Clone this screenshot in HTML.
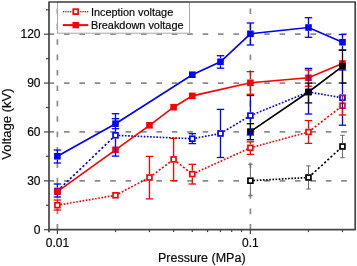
<!DOCTYPE html>
<html><head><meta charset="utf-8"><style>html,body{margin:0;padding:0;background:#fff;width:357px;height:266px;overflow:hidden}svg{display:block;will-change:transform}text{font-family:"Liberation Sans",sans-serif;stroke:#1a1a1a;stroke-width:0.2px}</style></head><body>
<svg width="357" height="266" viewBox="0 0 357 266" font-family="Liberation Sans, sans-serif" fill="#000"><line x1="48.6" y1="180.83" x2="355.2" y2="180.83" stroke="#8c8c8c" stroke-width="1.7" stroke-dasharray="5.6 9.8"/>
<line x1="48.6" y1="131.96" x2="355.2" y2="131.96" stroke="#8c8c8c" stroke-width="1.7" stroke-dasharray="5.6 9.8"/>
<line x1="48.6" y1="83.09" x2="355.2" y2="83.09" stroke="#8c8c8c" stroke-width="1.7" stroke-dasharray="5.6 9.8"/>
<line x1="48.6" y1="34.22" x2="355.2" y2="34.22" stroke="#8c8c8c" stroke-width="1.7" stroke-dasharray="5.6 9.8"/>
<line x1="57.40" y1="229.6" x2="57.40" y2="2.0" stroke="#8c8c8c" stroke-width="1.7" stroke-dasharray="5.6 9.8"/>
<line x1="250.40" y1="229.6" x2="250.40" y2="2.0" stroke="#8c8c8c" stroke-width="1.7" stroke-dasharray="5.6 9.8"/>
<line x1="57.40" y1="191" x2="115.50" y2="135.3" stroke="#0000ff" stroke-width="1.65" stroke-dasharray="2.22 2.15"/>
<line x1="115.50" y1="135.3" x2="192.30" y2="138.7" stroke="#0000ff" stroke-width="1.65" stroke-dasharray="1.60 1.55"/>
<line x1="192.30" y1="138.7" x2="220.50" y2="133.5" stroke="#0000ff" stroke-width="1.65" stroke-dasharray="1.63 1.58"/>
<line x1="220.50" y1="133.5" x2="250.40" y2="115.6" stroke="#0000ff" stroke-width="1.65" stroke-dasharray="1.86 1.81"/>
<line x1="250.40" y1="115.6" x2="308.50" y2="92" stroke="#0000ff" stroke-width="1.65" stroke-dasharray="1.73 1.67"/>
<line x1="308.50" y1="92" x2="342.48" y2="97.8" stroke="#0000ff" stroke-width="1.65" stroke-dasharray="1.62 1.57"/>
<polyline points="57.40,156.3 115.50,123.7 192.30,74.7 220.50,61.8 250.40,33.8 308.50,27.5 342.48,42.2" fill="none" stroke="#0000ff" stroke-width="1.65"/>
<line x1="57.40" y1="205.2" x2="115.50" y2="195.3" stroke="#ff0000" stroke-width="1.65" stroke-dasharray="1.62 1.57"/>
<line x1="115.50" y1="195.3" x2="149.48" y2="177.5" stroke="#ff0000" stroke-width="1.65" stroke-dasharray="1.81 1.75"/>
<line x1="149.48" y1="177.5" x2="173.60" y2="159.4" stroke="#ff0000" stroke-width="1.65" stroke-dasharray="2.00 1.94"/>
<line x1="173.60" y1="159.4" x2="192.30" y2="174.1" stroke="#ff0000" stroke-width="1.65" stroke-dasharray="2.04 1.97"/>
<line x1="192.30" y1="174.1" x2="250.40" y2="147.8" stroke="#ff0000" stroke-width="1.65" stroke-dasharray="1.76 1.70"/>
<line x1="250.40" y1="147.8" x2="308.50" y2="132" stroke="#ff0000" stroke-width="1.65" stroke-dasharray="1.66 1.61"/>
<line x1="308.50" y1="132" x2="342.48" y2="105.7" stroke="#ff0000" stroke-width="1.65" stroke-dasharray="2.02 1.96"/>
<polyline points="57.40,191.7 115.50,149.8 149.48,125.3 173.60,107.2 192.30,95.9 250.40,82.8 308.50,77.8 342.48,63.5" fill="none" stroke="#ff0000" stroke-width="1.65"/>
<line x1="250.40" y1="180.7" x2="308.50" y2="177.5" stroke="#000000" stroke-width="1.65" stroke-dasharray="1.60 1.55"/>
<line x1="308.50" y1="177.5" x2="342.48" y2="146.5" stroke="#000000" stroke-width="1.65" stroke-dasharray="2.17 2.10"/>
<polyline points="250.40,131.6 308.50,92 342.48,66.4" fill="none" stroke="#000000" stroke-width="1.65"/>
<rect x="54.95" y="188.55" width="4.8999999999999995" height="4.8999999999999995" fill="#fff" stroke="#0000ff" stroke-width="1.7"/>
<rect x="113.05" y="132.85" width="4.8999999999999995" height="4.8999999999999995" fill="#fff" stroke="#0000ff" stroke-width="1.7"/>
<rect x="189.85" y="136.25" width="4.8999999999999995" height="4.8999999999999995" fill="#fff" stroke="#0000ff" stroke-width="1.7"/>
<rect x="218.05" y="131.05" width="4.8999999999999995" height="4.8999999999999995" fill="#fff" stroke="#0000ff" stroke-width="1.7"/>
<rect x="247.95" y="113.15" width="4.8999999999999995" height="4.8999999999999995" fill="#fff" stroke="#0000ff" stroke-width="1.7"/>
<rect x="306.05" y="89.55" width="4.8999999999999995" height="4.8999999999999995" fill="#fff" stroke="#0000ff" stroke-width="1.7"/>
<rect x="340.03" y="95.35" width="4.8999999999999995" height="4.8999999999999995" fill="#fff" stroke="#0000ff" stroke-width="1.7"/>
<rect x="54.10" y="153.00" width="6.6" height="6.6" fill="#0000ff"/>
<rect x="112.20" y="120.40" width="6.6" height="6.6" fill="#0000ff"/>
<rect x="189.00" y="71.40" width="6.6" height="6.6" fill="#0000ff"/>
<rect x="217.20" y="58.50" width="6.6" height="6.6" fill="#0000ff"/>
<rect x="247.10" y="30.50" width="6.6" height="6.6" fill="#0000ff"/>
<rect x="305.20" y="24.20" width="6.6" height="6.6" fill="#0000ff"/>
<rect x="339.18" y="38.90" width="6.6" height="6.6" fill="#0000ff"/>
<rect x="54.95" y="202.75" width="4.8999999999999995" height="4.8999999999999995" fill="#fff" stroke="#ff0000" stroke-width="1.7"/>
<rect x="113.05" y="192.85" width="4.8999999999999995" height="4.8999999999999995" fill="#fff" stroke="#ff0000" stroke-width="1.7"/>
<rect x="147.03" y="175.05" width="4.8999999999999995" height="4.8999999999999995" fill="#fff" stroke="#ff0000" stroke-width="1.7"/>
<rect x="171.15" y="156.95" width="4.8999999999999995" height="4.8999999999999995" fill="#fff" stroke="#ff0000" stroke-width="1.7"/>
<rect x="189.85" y="171.65" width="4.8999999999999995" height="4.8999999999999995" fill="#fff" stroke="#ff0000" stroke-width="1.7"/>
<rect x="247.95" y="145.35" width="4.8999999999999995" height="4.8999999999999995" fill="#fff" stroke="#ff0000" stroke-width="1.7"/>
<rect x="306.05" y="129.55" width="4.8999999999999995" height="4.8999999999999995" fill="#fff" stroke="#ff0000" stroke-width="1.7"/>
<rect x="340.03" y="103.25" width="4.8999999999999995" height="4.8999999999999995" fill="#fff" stroke="#ff0000" stroke-width="1.7"/>
<rect x="54.10" y="188.40" width="6.6" height="6.6" fill="#ff0000"/>
<rect x="112.20" y="146.50" width="6.6" height="6.6" fill="#ff0000"/>
<rect x="146.18" y="122.00" width="6.6" height="6.6" fill="#ff0000"/>
<rect x="170.30" y="103.90" width="6.6" height="6.6" fill="#ff0000"/>
<rect x="189.00" y="92.60" width="6.6" height="6.6" fill="#ff0000"/>
<rect x="247.10" y="79.50" width="6.6" height="6.6" fill="#ff0000"/>
<rect x="305.20" y="74.50" width="6.6" height="6.6" fill="#ff0000"/>
<rect x="339.18" y="60.20" width="6.6" height="6.6" fill="#ff0000"/>
<rect x="247.95" y="178.25" width="4.8999999999999995" height="4.8999999999999995" fill="#fff" stroke="#000000" stroke-width="1.7"/>
<rect x="306.05" y="175.05" width="4.8999999999999995" height="4.8999999999999995" fill="#fff" stroke="#000000" stroke-width="1.7"/>
<rect x="340.03" y="144.05" width="4.8999999999999995" height="4.8999999999999995" fill="#fff" stroke="#000000" stroke-width="1.7"/>
<rect x="247.10" y="128.30" width="6.6" height="6.6" fill="#000000"/>
<rect x="305.20" y="88.70" width="6.6" height="6.6" fill="#000000"/>
<rect x="339.18" y="63.10" width="6.6" height="6.6" fill="#000000"/>
<g stroke="#0000ff" stroke-width="1.3" opacity="1"><line x1="57.40" y1="184" x2="57.40" y2="187.60"/><line x1="57.40" y1="194.40" x2="57.40" y2="197"/><line x1="53.70" y1="184" x2="61.10" y2="184"/><line x1="53.70" y1="197" x2="61.10" y2="197"/></g>
<g stroke="#0000ff" stroke-width="1.3" opacity="1"><line x1="115.50" y1="113.7" x2="115.50" y2="131.90"/><line x1="115.50" y1="138.70" x2="115.50" y2="156.1"/><line x1="111.80" y1="113.7" x2="119.20" y2="113.7"/><line x1="111.80" y1="156.1" x2="119.20" y2="156.1"/></g>
<g stroke="#0000ff" stroke-width="1.3" opacity="1"><line x1="192.30" y1="133.6" x2="192.30" y2="135.30"/><line x1="192.30" y1="142.10" x2="192.30" y2="143.6"/><line x1="188.60" y1="133.6" x2="196.00" y2="133.6"/><line x1="188.60" y1="143.6" x2="196.00" y2="143.6"/></g>
<g stroke="#0000ff" stroke-width="1.3" opacity="1"><line x1="220.50" y1="109.4" x2="220.50" y2="130.10"/><line x1="220.50" y1="136.90" x2="220.50" y2="157.5"/><line x1="216.80" y1="109.4" x2="224.20" y2="109.4"/><line x1="216.80" y1="157.5" x2="224.20" y2="157.5"/></g>
<g stroke="#0000ff" stroke-width="1.3" opacity="1"><line x1="250.40" y1="95.5" x2="250.40" y2="112.20"/><line x1="250.40" y1="119.00" x2="250.40" y2="135"/><line x1="246.70" y1="95.5" x2="254.10" y2="95.5"/><line x1="246.70" y1="135" x2="254.10" y2="135"/></g>
<g stroke="#0000ff" stroke-width="1.3" opacity="1"><line x1="308.50" y1="68.4" x2="308.50" y2="88.60"/><line x1="308.50" y1="95.40" x2="308.50" y2="114"/><line x1="304.80" y1="68.4" x2="312.20" y2="68.4"/><line x1="304.80" y1="114" x2="312.20" y2="114"/></g>
<g stroke="#0000ff" stroke-width="1.3" opacity="1"><line x1="342.48" y1="70" x2="342.48" y2="94.40"/><line x1="342.48" y1="101.20" x2="342.48" y2="125.2"/><line x1="338.78" y1="70" x2="346.18" y2="70"/><line x1="338.78" y1="125.2" x2="346.18" y2="125.2"/></g>
<g stroke="#0000ff" stroke-width="1.3" opacity="1"><line x1="57.40" y1="150" x2="57.40" y2="152.90"/><line x1="57.40" y1="159.70" x2="57.40" y2="163"/><line x1="53.70" y1="150" x2="61.10" y2="150"/><line x1="53.70" y1="163" x2="61.10" y2="163"/></g>
<g stroke="#0000ff" stroke-width="1.3" opacity="1"><line x1="115.50" y1="118.7" x2="115.50" y2="120.30"/><line x1="115.50" y1="127.10" x2="115.50" y2="128.7"/><line x1="111.80" y1="118.7" x2="119.20" y2="118.7"/><line x1="111.80" y1="128.7" x2="119.20" y2="128.7"/></g>
<g stroke="#0000ff" stroke-width="1.3" opacity="1"><line x1="220.50" y1="55.7" x2="220.50" y2="58.40"/><line x1="220.50" y1="65.20" x2="220.50" y2="68.2"/><line x1="216.80" y1="55.7" x2="224.20" y2="55.7"/><line x1="216.80" y1="68.2" x2="224.20" y2="68.2"/></g>
<g stroke="#0000ff" stroke-width="1.3" opacity="1"><line x1="250.40" y1="23" x2="250.40" y2="30.40"/><line x1="250.40" y1="37.20" x2="250.40" y2="45"/><line x1="246.70" y1="23" x2="254.10" y2="23"/><line x1="246.70" y1="45" x2="254.10" y2="45"/></g>
<g stroke="#0000ff" stroke-width="1.3" opacity="1"><line x1="308.50" y1="17.7" x2="308.50" y2="24.10"/><line x1="308.50" y1="30.90" x2="308.50" y2="37.3"/><line x1="304.80" y1="17.7" x2="312.20" y2="17.7"/><line x1="304.80" y1="37.3" x2="312.20" y2="37.3"/></g>
<g stroke="#0000ff" stroke-width="1.3" opacity="1"><line x1="342.48" y1="34.5" x2="342.48" y2="38.80"/><line x1="342.48" y1="45.60" x2="342.48" y2="50"/><line x1="338.78" y1="34.5" x2="346.18" y2="34.5"/><line x1="338.78" y1="50" x2="346.18" y2="50"/></g>
<g stroke="#ff0000" stroke-width="1.3" opacity="1"><line x1="57.40" y1="200" x2="57.40" y2="201.80"/><line x1="57.40" y1="208.60" x2="57.40" y2="210"/><line x1="53.70" y1="200" x2="61.10" y2="200"/><line x1="53.70" y1="210" x2="61.10" y2="210"/></g>
<g stroke="#ff0000" stroke-width="1.3" opacity="1"><line x1="149.48" y1="156.4" x2="149.48" y2="174.10"/><line x1="149.48" y1="180.90" x2="149.48" y2="198.9"/><line x1="145.78" y1="156.4" x2="153.18" y2="156.4"/><line x1="145.78" y1="198.9" x2="153.18" y2="198.9"/></g>
<g stroke="#ff0000" stroke-width="1.3" opacity="1"><line x1="173.60" y1="138.4" x2="173.60" y2="156.00"/><line x1="173.60" y1="162.80" x2="173.60" y2="180.7"/><line x1="169.90" y1="138.4" x2="177.30" y2="138.4"/><line x1="169.90" y1="180.7" x2="177.30" y2="180.7"/></g>
<g stroke="#ff0000" stroke-width="1.3" opacity="1"><line x1="192.30" y1="164.3" x2="192.30" y2="170.70"/><line x1="192.30" y1="177.50" x2="192.30" y2="184"/><line x1="188.60" y1="164.3" x2="196.00" y2="164.3"/><line x1="188.60" y1="184" x2="196.00" y2="184"/></g>
<g stroke="#ff0000" stroke-width="1.3" opacity="1"><line x1="250.40" y1="141.8" x2="250.40" y2="144.40"/><line x1="250.40" y1="151.20" x2="250.40" y2="154.4"/><line x1="246.70" y1="141.8" x2="254.10" y2="141.8"/><line x1="246.70" y1="154.4" x2="254.10" y2="154.4"/></g>
<g stroke="#ff0000" stroke-width="1.3" opacity="1"><line x1="308.50" y1="120.6" x2="308.50" y2="128.60"/><line x1="308.50" y1="135.40" x2="308.50" y2="143.4"/><line x1="304.80" y1="120.6" x2="312.20" y2="120.6"/><line x1="304.80" y1="143.4" x2="312.20" y2="143.4"/></g>
<g stroke="#ff0000" stroke-width="1.3" opacity="1"><line x1="342.48" y1="95.5" x2="342.48" y2="102.30"/><line x1="342.48" y1="109.10" x2="342.48" y2="115"/><line x1="338.78" y1="95.5" x2="346.18" y2="95.5"/><line x1="338.78" y1="115" x2="346.18" y2="115"/></g>
<g stroke="#ff0000" stroke-width="1.3" opacity="1"><line x1="250.40" y1="71.6" x2="250.40" y2="79.40"/><line x1="250.40" y1="86.20" x2="250.40" y2="94.3"/><line x1="246.70" y1="71.6" x2="254.10" y2="71.6"/><line x1="246.70" y1="94.3" x2="254.10" y2="94.3"/></g>
<g stroke="#ff0000" stroke-width="1.3" opacity="1"><line x1="308.50" y1="70" x2="308.50" y2="74.40"/><line x1="308.50" y1="81.20" x2="308.50" y2="86.2"/><line x1="304.80" y1="70" x2="312.20" y2="70"/><line x1="304.80" y1="86.2" x2="312.20" y2="86.2"/></g>
<g stroke="#666" stroke-width="1.0" opacity="1"><line x1="250.40" y1="164.2" x2="250.40" y2="177.30"/><line x1="250.40" y1="184.10" x2="250.40" y2="195.7"/><line x1="248.15" y1="164.2" x2="252.65" y2="164.2"/><line x1="248.15" y1="195.7" x2="252.65" y2="195.7"/></g>
<g stroke="#666" stroke-width="1.0" opacity="1"><line x1="308.50" y1="165.9" x2="308.50" y2="174.10"/><line x1="308.50" y1="180.90" x2="308.50" y2="189"/><line x1="306.25" y1="165.9" x2="310.75" y2="165.9"/><line x1="306.25" y1="189" x2="310.75" y2="189"/></g>
<g stroke="#666" stroke-width="1.0" opacity="1"><line x1="342.48" y1="135.3" x2="342.48" y2="143.10"/><line x1="342.48" y1="149.90" x2="342.48" y2="157.7"/><line x1="340.23" y1="135.3" x2="344.73" y2="135.3"/><line x1="340.23" y1="157.7" x2="344.73" y2="157.7"/></g>
<g stroke="#000000" stroke-width="1.3" opacity="1"><line x1="250.40" y1="123.7" x2="250.40" y2="128.20"/><line x1="250.40" y1="135.00" x2="250.40" y2="139.7"/><line x1="246.70" y1="123.7" x2="254.10" y2="123.7"/><line x1="246.70" y1="139.7" x2="254.10" y2="139.7"/></g>
<g stroke="#000000" stroke-width="1.3" opacity="1"><line x1="308.50" y1="83.1" x2="308.50" y2="88.60"/><line x1="308.50" y1="95.40" x2="308.50" y2="102.9"/><line x1="304.80" y1="83.1" x2="312.20" y2="83.1"/><line x1="304.80" y1="102.9" x2="312.20" y2="102.9"/></g>
<g stroke="#000000" stroke-width="1.3" opacity="1"><line x1="342.48" y1="50.2" x2="342.48" y2="63.00"/><line x1="342.48" y1="69.80" x2="342.48" y2="83"/><line x1="338.78" y1="50.2" x2="346.18" y2="50.2"/><line x1="338.78" y1="83" x2="346.18" y2="83"/></g>
<rect x="57.5" y="2.0" width="132.0" height="31.2" fill="#fff" stroke="#a8a8a8" stroke-width="1"/>
<rect x="63.0" y="11.0" width="1.25" height="1.4" fill="#ff0000"/>
<rect x="65.3" y="11.0" width="1.25" height="1.4" fill="#ff0000"/>
<rect x="67.6" y="11.0" width="1.25" height="1.4" fill="#ff0000"/>
<rect x="69.9" y="11.0" width="1.25" height="1.4" fill="#ff0000"/>
<rect x="80.2" y="11.0" width="1.25" height="1.4" fill="#ff0000"/>
<rect x="82.5" y="11.0" width="1.25" height="1.4" fill="#ff0000"/>
<rect x="84.8" y="11.0" width="1.25" height="1.4" fill="#ff0000"/>
<rect x="87.0" y="11.0" width="1.25" height="1.4" fill="#ff0000"/>
<rect x="73.3" y="9.2" width="4.9" height="4.9" fill="#fff" stroke="#ff0000" stroke-width="1.8"/>
<line x1="62.9" y1="25.1" x2="88.3" y2="25.1" stroke="#ff0000" stroke-width="2"/>
<rect x="72.45" y="21.900000000000002" width="6.6" height="6.4" fill="#ff0000"/>
<text x="90.9" y="15.7" font-size="10.9">Inception voltage</text>
<text x="90.9" y="29.1" font-size="10.9">Breakdown voltage</text>
<rect x="49.0" y="2.0" width="306.2" height="227.6" fill="none" stroke="#454545" stroke-width="1.7" stroke-linejoin="round"/>
<line x1="49.0" y1="229.6" x2="49.0" y2="232.2" stroke="#454545" stroke-width="1.7"/>
<line x1="44" y1="229.70" x2="49.0" y2="229.70" stroke="#454545" stroke-width="1.2"/>
<text x="40.5" y="233.60" font-size="12" text-anchor="end">0</text>
<line x1="44" y1="180.83" x2="49.0" y2="180.83" stroke="#454545" stroke-width="1.2"/>
<text x="40.5" y="184.73" font-size="12" text-anchor="end">30</text>
<line x1="44" y1="131.96" x2="49.0" y2="131.96" stroke="#454545" stroke-width="1.2"/>
<text x="40.5" y="135.86" font-size="12" text-anchor="end">60</text>
<line x1="44" y1="83.09" x2="49.0" y2="83.09" stroke="#454545" stroke-width="1.2"/>
<text x="40.5" y="86.99" font-size="12" text-anchor="end">90</text>
<line x1="44" y1="34.22" x2="49.0" y2="34.22" stroke="#454545" stroke-width="1.2"/>
<text x="40.5" y="38.12" font-size="12" text-anchor="end">120</text>
<line x1="46" y1="205.26" x2="49.0" y2="205.26" stroke="#454545" stroke-width="1.2"/>
<line x1="46" y1="156.39" x2="49.0" y2="156.39" stroke="#454545" stroke-width="1.2"/>
<line x1="46" y1="107.52" x2="49.0" y2="107.52" stroke="#454545" stroke-width="1.2"/>
<line x1="46" y1="58.66" x2="49.0" y2="58.66" stroke="#454545" stroke-width="1.2"/>
<line x1="46" y1="9.78" x2="49.0" y2="9.78" stroke="#454545" stroke-width="1.2"/>
<line x1="57.40" y1="229.6" x2="57.40" y2="234.1" stroke="#454545" stroke-width="1.2"/>
<line x1="250.40" y1="229.6" x2="250.40" y2="234.1" stroke="#454545" stroke-width="1.2"/>
<line x1="115.50" y1="229.6" x2="115.50" y2="232.1" stroke="#454545" stroke-width="1.2"/>
<line x1="149.48" y1="229.6" x2="149.48" y2="232.1" stroke="#454545" stroke-width="1.2"/>
<line x1="173.60" y1="229.6" x2="173.60" y2="232.1" stroke="#454545" stroke-width="1.2"/>
<line x1="192.30" y1="229.6" x2="192.30" y2="232.1" stroke="#454545" stroke-width="1.2"/>
<line x1="207.58" y1="229.6" x2="207.58" y2="232.1" stroke="#454545" stroke-width="1.2"/>
<line x1="220.50" y1="229.6" x2="220.50" y2="232.1" stroke="#454545" stroke-width="1.2"/>
<line x1="231.70" y1="229.6" x2="231.70" y2="232.1" stroke="#454545" stroke-width="1.2"/>
<line x1="241.57" y1="229.6" x2="241.57" y2="232.1" stroke="#454545" stroke-width="1.2"/>
<line x1="308.50" y1="229.6" x2="308.50" y2="232.1" stroke="#454545" stroke-width="1.2"/>
<line x1="342.48" y1="229.6" x2="342.48" y2="232.1" stroke="#454545" stroke-width="1.2"/>
<text x="57.40" y="247" font-size="12" text-anchor="middle">0.01</text>
<text x="250.40" y="247" font-size="12" text-anchor="middle">0.1</text>
<text x="201.8" y="261.6" font-size="12.5" text-anchor="middle">Pressure (MPa)</text>
<text transform="translate(11,124) rotate(-90)" font-size="13.1" text-anchor="middle">Voltage (kV)</text></svg>
</body></html>
